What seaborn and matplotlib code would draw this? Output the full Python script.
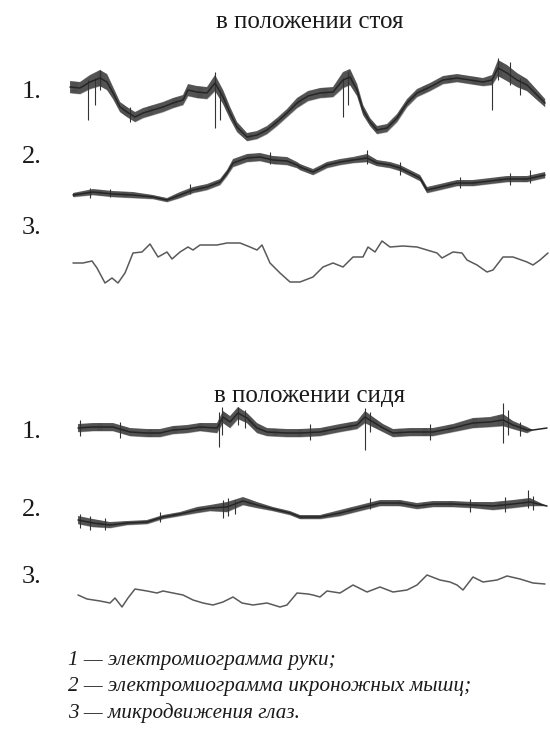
import numpy as np
import pandas as pd
import matplotlib
matplotlib.use("Agg")
import matplotlib.pyplot as plt
import seaborn as sns

# ---- recordings (time in s, amplitude in arbitrary units, up = positive) ----
# standing: 1 - arm EMG, 2 - calf EMG, 3 - eye micromovements
st1_t = [0.0, 1.0, 2.0, 3.0, 3.7, 4.3, 5.0, 5.7, 6.5, 7.3, 8.3, 9.3, 10.3, 11.3, 11.8,
         12.7, 13.7, 14.5, 15.3, 16.0, 16.7, 17.7, 18.7, 19.7, 20.7, 21.7, 22.7, 23.8,
         25.0, 26.3, 27.3, 28.0, 28.7, 29.3, 30.0, 30.7, 31.7, 32.7, 33.7, 34.7, 36.0,
         37.3, 38.7, 40.0, 41.3, 42.2, 42.8, 43.7, 44.7, 45.7, 46.7, 47.5]
st1_v = [53, 52, 58, 62, 58, 47, 33, 28, 23, 27, 30, 33, 37, 40, 50, 48, 47, 57, 43, 27,
         13, 3, 5, 10, 18, 27, 37, 44, 47, 48, 60, 63, 50, 30, 18, 10, 12, 22, 37, 47,
         53, 60, 62, 60, 58, 60, 72, 67, 60, 55, 45, 37]
st1_w = [6, 6, 7, 8, 8, 6, 5, 5, 5, 5, 5, 5, 5, 5, 6, 6, 6, 8, 7, 6, 5, 4, 4, 4, 4, 4,
         5, 5, 5, 5, 8, 8, 6, 5, 4, 4, 4, 4, 4, 4, 4, 4, 4, 4, 4, 5, 8, 8, 7, 6, 5, 4]
st1_spk_t = [1.8, 2.5, 3.0, 6.0, 14.5, 15.0, 27.3, 27.8, 42.2, 42.8, 44.0, 45.0]
st1_spk_lo = [20, 35, 50, 18, 12, 20, 23, 35, 30, 60, 55, 45]
st1_spk_hi = [60, 62, 70, 33, 68, 50, 62, 68, 62, 82, 78, 62]

st2_t = [0.3, 2.3, 4.3, 6.3, 8.3, 9.7, 11.0, 12.3, 13.7, 15.0, 15.7, 16.3, 17.7, 19.0,
         20.3, 21.7, 22.7, 23.0, 24.3, 25.7, 27.0, 28.3, 29.7, 30.7, 32.0, 33.0, 34.0,
         35.0, 35.7, 37.0, 38.7, 40.3, 42.0, 43.7, 45.7, 47.5]
st2_v = [5, 8, 6, 5, 3, 0, 5, 10, 13, 18, 27, 37, 42, 43, 40, 39, 35, 33, 28, 35, 38,
         40, 42, 37, 35, 32, 27, 22, 10, 13, 17, 17, 19, 21, 21, 25]
st2_w = [2, 3, 3, 3, 2, 2, 3, 3, 3, 3, 3, 4, 4, 4, 4, 4, 3, 3, 3, 3, 3, 3, 4, 3, 3, 3,
         3, 3, 3, 3, 3, 3, 3, 3, 3, 3]
st2_spk_t = [2.0, 4.0, 12.0, 20.0, 29.7, 33.0, 39.0, 44.0, 46.0]
st2_spk_lo = [2, 3, 6, 36, 36, 25, 12, 15, 17]
st2_spk_hi = [12, 11, 16, 48, 50, 38, 23, 27, 30]

st3_t = [0.3, 1.3, 2.2, 2.7, 3.5, 4.2, 4.8, 5.5, 6.3, 7.2, 8.0, 8.8, 9.7, 10.2, 11.0,
         11.8, 12.3, 13.0, 14.7, 15.7, 17.0, 18.0, 18.7, 19.2, 20.0, 21.0, 22.0, 23.0,
         24.3, 25.3, 26.3, 27.3, 28.3, 29.3, 29.8, 30.5, 31.2, 32.0, 33.3, 34.7, 35.7,
         36.7, 37.2, 38.3, 39.2, 39.7, 40.7, 41.7, 42.3, 43.3, 44.3, 45.7, 46.3, 47.0, 47.8]
st3_v = [27, 27, 29, 22, 7, 12, 7, 17, 37, 38, 46, 33, 38, 31, 38, 43, 40, 45, 45, 47,
         47, 43, 40, 45, 27, 17, 8, 8, 13, 23, 27, 23, 33, 33, 43, 38, 49, 43, 44, 43,
         40, 37, 32, 38, 37, 30, 25, 18, 20, 33, 33, 28, 25, 30, 37]

# sitting
si1_t = [0.8, 2.3, 4.3, 6.0, 7.7, 9.0, 10.3, 11.7, 13.0, 14.7, 15.3, 16.0, 16.8, 17.7,
         18.7, 19.7, 21.7, 23.0, 25.0, 27.0, 28.7, 29.5, 30.3, 31.3, 32.3, 34.0, 36.3,
         38.3, 40.3, 42.0, 43.3, 44.3, 45.7, 46.3, 47.7]
si1_v = [22, 23, 23, 18, 17, 17, 20, 21, 23, 22, 33, 28, 37, 32, 22, 18, 17, 17, 18, 22,
         25, 33, 28, 22, 17, 18, 18, 22, 27, 28, 30, 25, 20, 20, 22]
si1_w = [4, 4, 4, 4, 4, 4, 4, 4, 4, 5, 6, 6, 6, 5, 5, 4, 4, 4, 4, 4, 4, 6, 5, 4, 4, 4,
         4, 4, 5, 5, 6, 4, 3, 0, 0]
si1_spk_t = [1.0, 5.0, 14.9, 15.2, 16.8, 17.5, 24.0, 29.5, 30.0, 36.0, 43.3, 43.8, 45.0]
si1_spk_lo = [14, 12, 3, 15, 25, 22, 10, 0, 18, 10, 7, 15, 14]
si1_spk_hi = [30, 28, 38, 43, 43, 40, 26, 42, 38, 26, 47, 40, 28]

si2_t = [0.8, 2.3, 4.0, 5.7, 7.7, 9.3, 11.0, 12.7, 14.0, 15.7, 17.3, 18.7, 20.3, 22.0,
         23.0, 25.0, 27.0, 29.0, 31.0, 33.0, 34.7, 36.3, 38.3, 40.3, 42.3, 44.3, 46.0, 47.7]
si2_v = [10, 7, 5, 7, 8, 13, 16, 20, 22, 23, 29, 25, 21, 17, 13, 13, 17, 22, 27, 27, 24,
         26, 26, 25, 24, 26, 28, 24]
si2_w = [4, 4, 3, 2, 2, 2, 2, 3, 3, 5, 4, 3, 2, 2, 2, 2, 3, 3, 3, 3, 3, 3, 3, 3, 4, 4,
         4, 0]
si2_spk_t = [1.0, 2.0, 3.5, 9.0, 15.3, 15.8, 16.5, 30.0, 40.0, 43.5, 45.8, 46.3]
si2_spk_lo = [2, 0, 0, 8, 12, 14, 16, 21, 18, 18, 22, 20]
si2_spk_hi = [16, 14, 12, 18, 30, 32, 30, 32, 31, 33, 40, 34]

si3_t = [0.8, 1.7, 3.0, 4.0, 4.5, 5.2, 5.8, 6.5, 7.7, 8.7, 9.3, 10.3, 11.3, 12.3, 13.3,
         14.3, 15.3, 16.3, 17.2, 18.3, 19.7, 21.0, 21.7, 22.7, 23.8, 24.3, 25.0, 25.7,
         27.0, 28.3, 29.7, 31.0, 32.3, 33.7, 34.7, 35.7, 37.0, 38.0, 38.7, 39.3, 40.3,
         41.3, 42.7, 43.7, 45.0, 46.3, 47.5]
si3_v = [15, 11, 9, 7, 12, 3, 12, 21, 19, 17, 19, 17, 15, 10, 7, 5, 8, 13, 7, 5, 7, 3, 5,
         17, 16, 15, 13, 19, 17, 25, 18, 23, 18, 20, 25, 35, 30, 28, 25, 20, 33, 28, 30,
         34, 31, 27, 26]

titles = ["в положении стоя", "в положении сидя"]
row_labels = ["1.", "2.", "3."]
legend_lines = ["1 — электромиограмма руки;",
                "2 — электромиограмма икроножных мышц;",
                "3 — микродвижения глаз."]

# ---- figure ----
sns.set_theme(style="white")
plt.rcParams["font.family"] = ["Liberation Serif", "DejaVu Serif"]
plt.rcParams["hatch.linewidth"] = 0.6

W, H = 550, 741
fig = plt.figure(figsize=(W / 100, H / 100), dpi=100)
fig.patch.set_facecolor("white")

XLIM = (-0.5, 48.2)
AX_LEFT, AX_RIGHT = 65, 552


def trace_axes(top_px, bottom_px, ylo):
    ax = fig.add_axes([AX_LEFT / W, 1 - bottom_px / H,
                       (AX_RIGHT - AX_LEFT) / W, (bottom_px - top_px) / H])
    ax.set_xlim(*XLIM)
    ax.set_ylim(ylo, ylo + (bottom_px - top_px))
    ax.set_facecolor("none")
    ax.axis("off")
    return ax


def emg(ax, t, v, w, spk_t, spk_lo, spk_hi):
    t = np.asarray(t, float)
    v = np.asarray(v, float)
    w = np.asarray(w, float)
    # noisy band: grey fill with vertical striation
    ax.fill_between(t, v - w, v + w, facecolor="#8c8c8c", alpha=0.65, lw=0)
    ax.fill_between(t, v - w, v + w, facecolor="none", edgecolor="#3a3a3a",
                    hatch="|" * 16, lw=0)
    ax.vlines(spk_t, spk_lo, spk_hi, color="#333333", lw=0.8)
    df = pd.DataFrame({"t": t, "v": v})
    sns.lineplot(data=df, x="t", y="v", ax=ax, color="#262626", lw=1.1,
                 estimator=None, sort=False)


def eye(ax, t, v):
    df = pd.DataFrame({"t": t, "v": v})
    sns.lineplot(data=df, x="t", y="v", ax=ax, color="#5a5a5a", lw=1.1,
                 estimator=None, sort=False)


ax = trace_axes(50, 150, -10)
emg(ax, st1_t, st1_v, st1_w, st1_spk_t, st1_spk_lo, st1_spk_hi)
ax = trace_axes(140, 210, -10)
emg(ax, st2_t, st2_v, st2_w, st2_spk_t, st2_spk_lo, st2_spk_hi)
ax = trace_axes(230, 300, -10)
eye(ax, st3_t, st3_v)

ax = trace_axes(395, 460, -10)
emg(ax, si1_t, si1_v, si1_w, si1_spk_t, si1_spk_lo, si1_spk_hi)
ax = trace_axes(480, 540, -10)
emg(ax, si2_t, si2_v, si2_w, si2_spk_t, si2_spk_lo, si2_spk_hi)
ax = trace_axes(560, 620, -10)
eye(ax, si3_t, si3_v)

# ---- text ----
def ftxt(x, y, s, **kw):
    fig.text(x / W, 1 - y / H, s, color="#1a1a1a", **kw)


ftxt(310, 22, titles[0], fontsize=18, ha="center", va="center")
ftxt(310, 396, titles[1], fontsize=18, ha="center", va="center")

for y, lab in zip([92, 157, 228], row_labels):
    ftxt(22, y, lab, fontsize=19, ha="left", va="center")
for y, lab in zip([432, 510, 577], row_labels):
    ftxt(22, y, lab, fontsize=19, ha="left", va="center")

for y, line in zip([660, 687, 713], legend_lines):
    ftxt(68, y, line, fontsize=15.2, style="italic", ha="left", va="center")

fig.savefig("out.png", dpi=100, facecolor="white")
